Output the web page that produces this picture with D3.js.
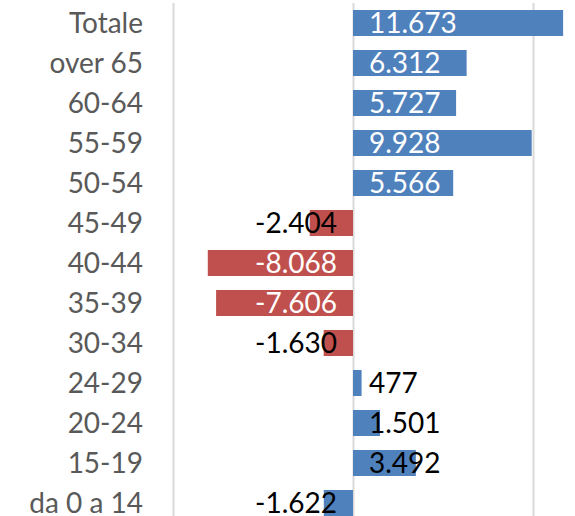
<!DOCTYPE html>
<html>
<head>
<meta charset="utf-8">
<script src="https://cdn.jsdelivr.net/npm/d3@7"></script>
<style>
  body { margin: 0; background: #fff; }
  svg { display: block; }
  .cat { font-family: Lato, "Open Sans", sans-serif; font-size: 28px; fill: #595959; }
  .val { font-family: Lato, "Open Sans", sans-serif; font-size: 28px; }
</style>
</head>
<body>
<div id="chart"></div>
<script>
var categories = ["Totale", "over 65", "60-64", "55-59", "50-54", "45-49", "40-44",
                  "35-39", "30-34", "24-29", "20-24", "15-19", "da 0 a 14"];
var values = [11673, 6312, 5727, 9928, 5566, -2404, -8068,
              -7606, -1630, 477, 1501, 3492, -1622];
var gridTicks = [-10000, 0, 10000];
// last bar is negative but keeps the positive colour in the source
var notInverted = ["da 0 a 14"];

var width = 575, height = 516;

var svg = d3.select("#chart").append("svg")
  .attr("width", width)
  .attr("height", height);

var x = d3.scaleLinear()
  .domain([-10000, 10000])
  .range([173, 533]);

var y = d3.scaleBand()
  .domain(categories)
  .range([3, 523])
  .paddingInner(0.35)
  .paddingOuter(0.175);

var it = d3.formatLocale({decimal: ",", thousands: ".", grouping: [3], currency: ["", "€"], minus: "-"});
var fmt = it.format(",d");

// gridlines
svg.selectAll(".grid")
  .data(gridTicks)
  .enter().append("line")
  .attr("class", "grid")
  .attr("x1", function(d) { return Math.round(x(d)) + 0.5; })
  .attr("x2", function(d) { return Math.round(x(d)) + 0.5; })
  .attr("y1", 3)
  .attr("y2", height)
  .style("stroke", "#d9d9d9")
  .style("stroke-width", 2);

var rows = categories.map(function(c, i) { return {cat: c, v: values[i]}; });

svg.selectAll(".bar")
  .data(rows)
  .enter().append("rect")
  .attr("class", "bar")
  .attr("x", function(d) { return x(Math.min(0, d.v)); })
  .attr("width", function(d) { return Math.abs(x(d.v) - x(0)); })
  .attr("y", function(d) { return y(d.cat); })
  .attr("height", y.bandwidth())
  .style("fill", function(d) {
    return (d.v < 0 && notInverted.indexOf(d.cat) < 0) ? "#c0504d" : "#4f81bd";
  });

// category labels
svg.selectAll(".cat")
  .data(categories)
  .enter().append("text")
  .attr("class", "cat")
  .attr("x", 143)
  .attr("y", function(d) { return y(d) + y.bandwidth() / 2; })
  .attr("dy", "0.36em")
  .attr("text-anchor", "end")
  .text(function(d) { return d; });

// value labels, inside base
svg.selectAll(".val")
  .data(rows)
  .enter().append("text")
  .attr("class", "val")
  .attr("x", function(d) { return d.v >= 0 ? x(0) + 16 : x(0) - 16; })
  .attr("y", function(d) { return y(d.cat) + y.bandwidth() / 2; })
  .attr("dy", "0.36em")
  .attr("text-anchor", function(d) { return d.v >= 0 ? "start" : "end"; })
  .style("fill", function(d) { return Math.abs(d.v) > 5000 ? "#ffffff" : "#000000"; })
  .text(function(d) { return fmt(d.v); });
</script>
</body>
</html>
